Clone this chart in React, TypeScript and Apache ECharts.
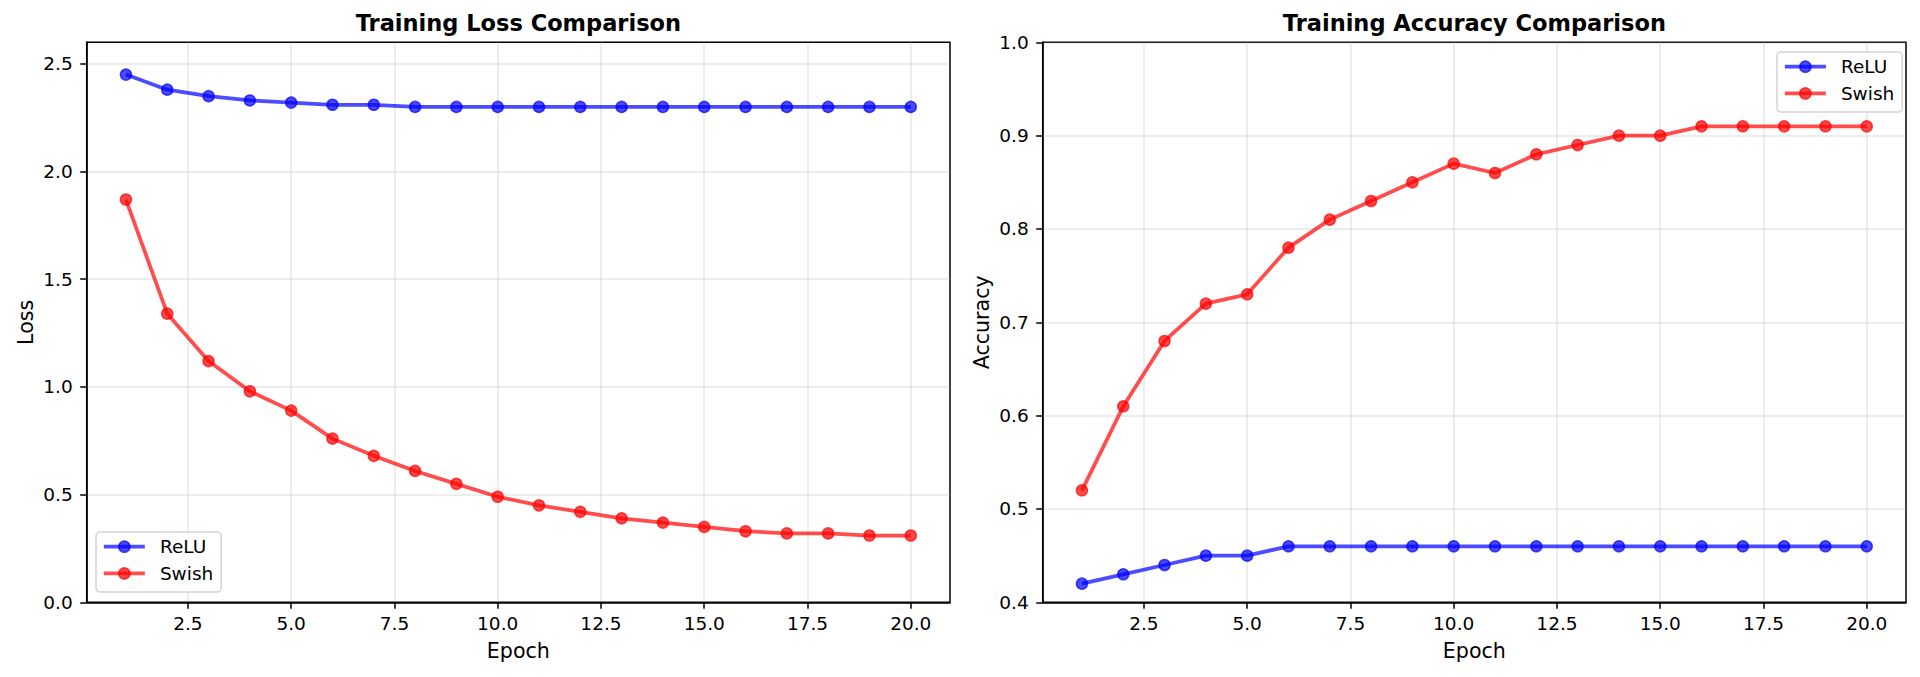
import { useEffect, useRef } from "react";
import * as echarts from "echarts";

// Training curves per epoch
const epochs = [1, 2, 3, 4, 5, 6, 7, 8, 9, 10, 11, 12, 13, 14, 15, 16, 17, 18, 19, 20];
const reluLoss = [2.45, 2.38, 2.35, 2.33, 2.32, 2.31, 2.31, 2.3, 2.3, 2.3, 2.3, 2.3, 2.3, 2.3, 2.3, 2.3, 2.3, 2.3, 2.3, 2.3];
const swishLoss = [1.87, 1.34, 1.12, 0.98, 0.89, 0.76, 0.68, 0.61, 0.55, 0.49, 0.45, 0.42, 0.39, 0.37, 0.35, 0.33, 0.32, 0.32, 0.31, 0.31];
const reluAcc = [0.42, 0.43, 0.44, 0.45, 0.45, 0.46, 0.46, 0.46, 0.46, 0.46, 0.46, 0.46, 0.46, 0.46, 0.46, 0.46, 0.46, 0.46, 0.46, 0.46];
const swishAcc = [0.52, 0.61, 0.68, 0.72, 0.73, 0.78, 0.81, 0.83, 0.85, 0.87, 0.86, 0.88, 0.89, 0.9, 0.9, 0.91, 0.91, 0.91, 0.91, 0.91];

// Tick positions
const epochTicks = [2.5, 5, 7.5, 10, 12.5, 15, 17.5, 20];
const lossTicks = [0, 0.5, 1, 1.5, 2, 2.5];
const accTicks = [0.4, 0.5, 0.6, 0.7, 0.8, 0.9, 1.0];

const FONT = "DejaVu Sans";
const BLUE = "rgba(0,0,255,0.7)";
const RED = "rgba(255,0,0,0.7)";

const PLOT_W = 863.3;
const PLOT_H = 560;
const PLOT_TOP = 42.3;
const LEFT_X = [86.7, 1042.7];

const pairs = (ys: number[]) => epochs.map((e, i) => [e, ys[i]]);

function xAxisFor(gridIndex: number) {
  return {
    gridIndex,
    type: "value",
    min: 0.05,
    max: 20.95,
    name: "Epoch",
    nameLocation: "middle",
    nameGap: 38,
    nameTextStyle: { fontSize: 20.6, color: "#000", fontFamily: FONT },
    axisLine: { show: true, onZero: false, lineStyle: { color: "#000", width: 1.5 } },
    axisTick: { show: true, length: 6.5, lineStyle: { color: "#000", width: 1.5 }, customValues: epochTicks },
    axisLabel: {
      customValues: epochTicks,
      formatter: (v: number) => v.toFixed(1),
      color: "#000",
      fontSize: 18.5,
      fontFamily: FONT,
      margin: 12,
    },
    splitLine: { show: true, lineStyle: { color: "#b0b0b0", opacity: 0.3, width: 1.5 } },
  };
}

function yAxisFor(gridIndex: number, name: string, min: number, max: number, ticks: number[]) {
  return {
    gridIndex,
    type: "value",
    min,
    max,
    name,
    nameLocation: "middle",
    nameGap: 50,
    nameTextStyle: { fontSize: 20.6, color: "#000", fontFamily: FONT },
    axisLine: { show: true, onZero: false, lineStyle: { color: "#000", width: 1.5 } },
    axisTick: { show: true, length: 6.5, lineStyle: { color: "#000", width: 1.5 }, customValues: ticks },
    axisLabel: {
      customValues: ticks,
      formatter: (v: number) => v.toFixed(1),
      color: "#000",
      fontSize: 18.5,
      fontFamily: FONT,
      margin: 14,
    },
    splitLine: { show: true, lineStyle: { color: "#b0b0b0", opacity: 0.3, width: 1.5 } },
  };
}

function lineSeries(name: string, color: string, data: number[], axisIndex: number) {
  return {
    name,
    type: "line",
    xAxisIndex: axisIndex,
    yAxisIndex: axisIndex,
    data: pairs(data),
    symbol: "circle",
    symbolSize: 11,
    showSymbol: true,
    lineStyle: { color, width: 3.75 },
    itemStyle: { color, borderColor: color, borderWidth: 1.5 },
    emphasis: { disabled: true },
  };
}

function legendAt(left: number, top: number) {
  return {
    orient: "vertical",
    left,
    top,
    data: ["ReLU", "Swish"],
    itemWidth: 41,
    itemHeight: 14,
    itemGap: 6.7,
    padding: [4.7, 8, 8.7, 6],
    backgroundColor: "rgba(255,255,255,0.8)",
    borderColor: "#d4d4d4",
    borderWidth: 1.5,
    borderRadius: 4,
    selectedMode: false,
    lineStyle: { width: 3.75 },
    itemStyle: { borderWidth: 1.5 },
    textStyle: { fontSize: 18.5, fontFamily: FONT, color: "#000", lineHeight: 20, padding: [0, 0, 0, 10] },
  };
}

export default function App() {
  const ref = useRef<HTMLDivElement>(null);

  useEffect(() => {
    if (!ref.current) return;
    const chart = echarts.init(ref.current, null, { renderer: "svg" });
    chart.setOption({
      animation: false,
      backgroundColor: "#fff",
      textStyle: { fontFamily: FONT },
      grid: LEFT_X.map((left) => ({
        left,
        top: PLOT_TOP,
        width: PLOT_W,
        height: PLOT_H,
        show: true,
        borderColor: "#000",
        borderWidth: 1.5,
        backgroundColor: "transparent",
      })),
      xAxis: [xAxisFor(0), xAxisFor(1)],
      yAxis: [
        yAxisFor(0, "Loss", 0, 2.6, lossTicks),
        yAxisFor(1, "Accuracy", 0.4, 1.0, accTicks),
      ],
      legend: [legendAt(96, 532), legendAt(1777, 52)],
      graphic: [
        {
          type: "text",
          x: LEFT_X[0] + PLOT_W / 2,
          y: 23,
          style: {
            text: "Training Loss Comparison",
            font: `bold 22.5px "${FONT}"`,
            fill: "#000",
            textAlign: "center",
            textVerticalAlign: "middle",
          },
        },
        {
          type: "text",
          x: LEFT_X[1] + PLOT_W / 2,
          y: 23,
          style: {
            text: "Training Accuracy Comparison",
            font: `bold 22.5px "${FONT}"`,
            fill: "#000",
            textAlign: "center",
            textVerticalAlign: "middle",
          },
        },
      ],
      series: [
        lineSeries("ReLU", BLUE, reluLoss, 0),
        lineSeries("Swish", RED, swishLoss, 0),
        lineSeries("ReLU", BLUE, reluAcc, 1),
        lineSeries("Swish", RED, swishAcc, 1),
      ],
    });
    return () => chart.dispose();
  }, []);

  return (
    <div
      ref={ref}
      style={{ position: "fixed", left: 0, top: 0, width: 1920, height: 677, background: "#fff" }}
    />
  );
}
